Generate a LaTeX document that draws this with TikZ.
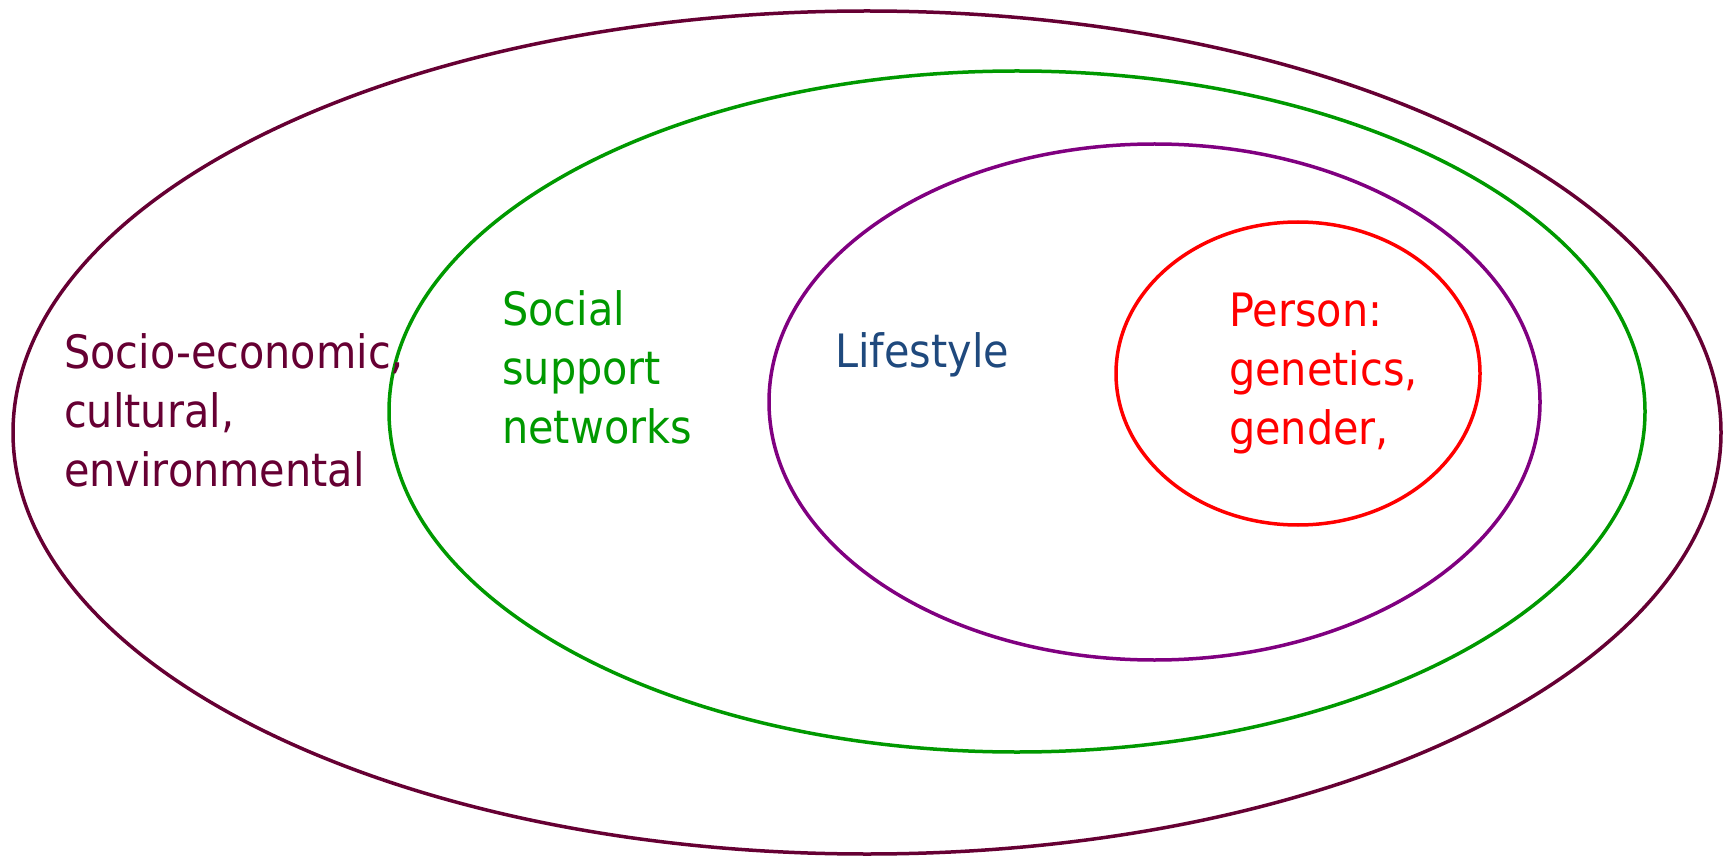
\documentclass[tikz,border=0pt]{standalone}
\usepackage{fontspec}
\setmainfont{DejaVu Sans}[FakeStretch=0.9]
\definecolor{maroon}{HTML}{660033}
\definecolor{grn}{HTML}{009900}
\definecolor{purp}{HTML}{800080}
\definecolor{redc}{HTML}{FF0000}
\definecolor{blu}{HTML}{1F497D}
\begin{document}
\begin{tikzpicture}[x=1pt,y=-1pt,
  ring/.style={line width=3.5pt},
  lbl/.style={inner sep=0pt, align=left, anchor=base west, font=\fontsize{46}{59}\selectfont}]
\useasboundingbox (0,0) rectangle (1729,858);
\draw[ring, maroon] (867,432.5) ellipse [x radius=854, y radius=421.5];
\draw[ring, grn] (1017,411.5) ellipse [x radius=628, y radius=340.5];
\draw[ring, purp] (1154.5,402) ellipse [x radius=385.5, y radius=258];
\draw[ring, redc] (1298,373.5) ellipse [x radius=182, y radius=151.5];
\node[lbl, text=maroon] (soc) at (64,486) {Socio-economic,\\cultural,\\environmental};
\node[lbl, text=grn] (sup) at (502,443) {Social\\support\\networks};
\node[lbl, text=blu] (life) at (835,368) {Lifestyle};
\node[lbl, text=redc] (per) at (1229,444) {Person:\\genetics,\\gender,};
\end{tikzpicture}
\end{document}
